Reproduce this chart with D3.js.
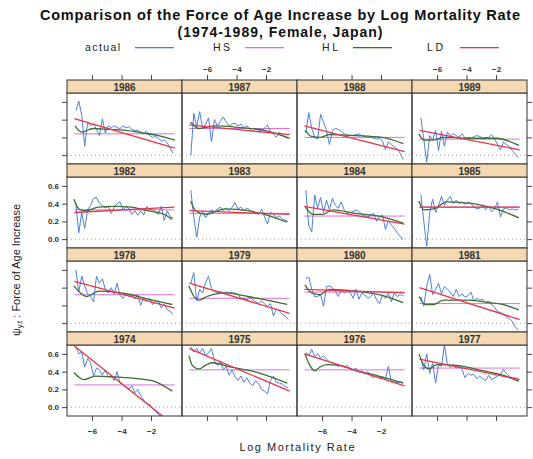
<!DOCTYPE html>
<html><head><meta charset="utf-8">
<script src="https://cdn.jsdelivr.net/npm/d3@7"></script>
<style>
html,body{margin:0;padding:0;background:#fff;}
svg{display:block;font-family:"Liberation Sans",Arial,sans-serif;}
</style></head>
<body><svg id="c" width="533" height="459"></svg>
<script>
// ---------- data ----------
const years = [1986,1987,1988,1989, 1982,1983,1984,1985, 1978,1979,1980,1981, 1974,1975,1976,1977];
const xTicks = [-6,-4,-2];
const yTicks = [0.0,0.2,0.4,0.6];
const yTickLabels = ["0.0","0.2","0.4","0.6"];
const seriesNames = ["actual","HS","HL","LD"];
// common log-mortality grid of the observed series
const logMx = [-7.1,-6.9,-6.7,-6.5,-6.3,-6.1,-5.9,-5.7,-5.5,-5.3,-5.1,-4.9,-4.7,-4.5,-4.3,-4.1,-3.9,-3.7,-3.5,-3.3,-3.1,-2.9,-2.7,-2.5,-2.3,-2.1,-1.9,-1.7,-1.5,-1.3,-1.1,-0.9,-0.7,-0.5];

const act1986 = [0.50,0.61,0.45,0.10,0.37,0.33,0.35,0.29,0.22,0.41,0.25,0.33,0.31,0.33,0.31,0.30,0.33,0.31,0.32,0.29,0.28,0.28,0.26,0.24,0.27,0.22,0.20,0.21,0.19,0.16,0.17,0.14,0.08,0.02];
const act1987 = [0.00,0.47,0.32,0.49,0.30,0.35,0.42,0.15,0.40,0.33,0.38,0.43,0.37,0.33,0.35,0.36,0.33,0.35,0.31,0.33,0.29,0.27,0.30,0.28,0.27,0.31,0.34,0.26,0.24,0.20,0.26,0.22,0.20,0.19];
const act1988 = [0.25,0.48,0.30,0.20,0.18,0.46,0.37,0.28,0.12,0.28,0.30,0.29,0.27,0.24,0.22,0.22,0.22,0.23,0.24,0.22,0.21,0.20,0.20,0.19,0.18,0.19,0.16,0.06,0.15,0.12,0.09,0.07,0.02,-0.05];
const act1989 = [0.42,0.18,-0.08,0.22,0.17,0.28,0.05,0.27,0.10,0.26,0.22,0.24,0.22,0.20,0.24,0.19,0.20,0.19,0.21,0.22,0.21,0.19,0.20,0.20,0.23,0.18,0.12,0.06,0.15,0.12,0.10,0.05,0.01,-0.03];
const act1982 = [0.40,0.07,0.30,0.12,0.33,0.38,0.46,0.47,0.40,0.38,0.35,0.37,0.29,0.36,0.40,0.42,0.33,0.37,0.34,0.28,0.32,0.27,0.32,0.27,0.37,0.33,0.34,0.30,0.28,0.37,0.21,0.32,0.25,0.24];
const act1983 = [0.55,0.25,0.02,0.25,0.31,0.24,0.29,0.33,0.31,0.34,0.36,0.32,0.35,0.32,0.36,0.41,0.34,0.36,0.32,0.35,0.33,0.30,0.29,0.28,0.34,0.25,0.17,0.30,0.28,0.24,0.26,0.23,0.21,0.20];
const act1984 = [0.55,0.15,0.08,0.50,0.35,0.47,0.30,0.44,0.33,0.46,0.38,0.35,0.42,0.33,0.29,0.30,0.31,0.33,0.31,0.28,0.26,0.25,0.27,0.29,0.20,0.25,0.27,0.11,0.21,0.16,0.12,0.07,0.03,0.00];
const act1985 = [0.50,0.20,-0.08,0.30,0.45,0.30,0.38,0.48,0.38,0.44,0.48,0.40,0.44,0.40,0.42,0.39,0.42,0.40,0.36,0.34,0.35,0.37,0.33,0.37,0.31,0.34,0.42,0.25,0.34,0.35,0.33,0.34,0.33,0.34];
const act1978 = [0.60,0.35,0.53,0.42,0.33,0.30,0.24,0.53,0.45,0.50,0.38,0.34,0.40,0.33,0.45,0.31,0.28,0.33,0.30,0.32,0.27,0.32,0.20,0.29,0.25,0.28,0.21,0.24,0.25,0.17,0.21,0.15,0.13,0.10];
const act1979 = [0.45,0.57,0.25,0.38,0.34,0.46,0.53,0.39,0.36,0.34,0.36,0.34,0.35,0.34,0.34,0.34,0.32,0.28,0.28,0.26,0.30,0.26,0.24,0.22,0.25,0.22,0.19,0.22,0.08,0.16,0.14,0.10,0.08,0.04];
const act1980 = [0.50,0.52,0.38,0.30,0.30,0.32,0.19,0.41,0.42,0.40,0.36,0.30,0.37,0.34,0.36,0.35,0.28,0.38,0.27,0.34,0.32,0.28,0.30,0.34,0.26,0.22,0.32,0.28,0.34,0.24,0.34,0.30,0.32,0.31];
const act1981 = [0.30,0.19,0.42,0.55,0.32,0.38,0.45,0.33,0.41,0.38,0.35,0.30,0.38,0.30,0.33,0.29,0.31,0.35,0.25,0.28,0.26,0.27,0.23,0.25,0.21,0.18,0.13,0.12,0.10,0.07,0.05,0.02,-0.04,-0.08];
const act1974 = [0.68,0.60,0.62,0.45,0.55,0.50,0.35,0.44,0.42,0.36,0.42,0.34,0.35,0.30,0.40,0.27,0.25,0.22,0.20,0.24,0.16,0.20,0.13,0.08,0.04,0.03,-0.01,-0.05,-0.08,-0.12,-0.18,-0.22,-0.26,-0.30];
const act1975 = [0.68,0.62,0.66,0.61,0.66,0.58,0.61,0.66,0.52,0.47,0.52,0.42,0.46,0.36,0.42,0.34,0.30,0.35,0.28,0.33,0.27,0.24,0.30,0.26,0.20,0.18,0.15,0.30,0.35,0.28,0.27,0.26,0.23,0.22];
const act1976 = [0.62,0.58,0.65,0.57,0.60,0.55,0.58,0.54,0.51,0.50,0.48,0.46,0.47,0.45,0.47,0.43,0.42,0.44,0.39,0.41,0.37,0.40,0.35,0.33,0.36,0.32,0.34,0.32,0.46,0.28,0.30,0.27,0.29,0.27];
const act1977 = [0.55,0.42,0.60,0.38,0.50,0.27,0.48,0.46,0.70,0.48,0.45,0.48,0.44,0.46,0.42,0.33,0.38,0.36,0.37,0.32,0.35,0.32,0.30,0.36,0.31,0.33,0.35,0.36,0.43,0.38,0.35,0.33,0.33,0.32];

// HS: constant level per year (same order as years)
const hsLevel = [0.24,0.30,0.20,0.18, 0.33,0.29,0.26,0.36, 0.32,0.28,0.35,0.22, 0.25,0.42,0.42,0.44];
// LD: linear fit, value at start and end of the range
const ldRange = [-7.2,-0.4];
const ldStart = [0.41,0.34,0.33,0.28, 0.30,0.32,0.37,0.36, 0.47,0.45,0.38,0.40, 0.69,0.66,0.60,0.54];
const ldEnd   = [0.08,0.23,0.04,0.06, 0.36,0.28,0.17,0.36, 0.17,0.11,0.34,0.04, -0.21,0.18,0.24,0.31];
// HL: smooth fitted curve, [logMx, value]
const hl1986 = [[-7.16,0.33],[-6.71,0.26],[-5.94,0.30],[-4.83,0.29],[-3.71,0.28],[-2.60,0.25],[-1.49,0.22],[-0.38,0.17]];
const hl1987 = [[-7.11,0.37],[-6.56,0.30],[-5.45,0.33],[-3.67,0.31],[-2.11,0.28],[-0.56,0.20],[-0.40,0.19]];
const hl1988 = [[-7.16,0.28],[-6.71,0.21],[-6.16,0.20],[-5.49,0.23],[-3.71,0.22],[-1.94,0.20],[-0.49,0.13]];
const hl1989 = [[-7.23,0.24],[-6.89,0.17],[-6.23,0.17],[-5.56,0.20],[-3.56,0.19],[-2.00,0.19],[-0.45,0.11]];
const hl1982 = [[-7.23,0.45],[-6.89,0.34],[-6.45,0.32],[-5.56,0.36],[-4.45,0.37],[-3.34,0.36],[-2.23,0.32],[-1.12,0.28],[-0.56,0.22]];
const hl1983 = [[-7.11,0.43],[-6.78,0.32],[-6.11,0.28],[-4.78,0.34],[-3.23,0.32],[-2.11,0.28],[-0.56,0.19]];
const hl1984 = [[-7.16,0.37],[-6.60,0.28],[-5.94,0.28],[-5.27,0.33],[-3.71,0.29],[-2.16,0.26],[-0.49,0.18]];
const hl1985 = [[-7.23,0.43],[-6.89,0.33],[-6.23,0.34],[-5.34,0.42],[-3.56,0.40],[-2.00,0.34],[-0.45,0.24]];
const hl1978 = [[-7.23,0.42],[-6.78,0.34],[-6.34,0.30],[-5.56,0.36],[-4.45,0.35],[-3.34,0.32],[-2.23,0.27],[-0.56,0.21]];
const hl1979 = [[-7.23,0.42],[-6.89,0.30],[-6.56,0.26],[-6.00,0.30],[-4.78,0.34],[-3.23,0.30],[-1.67,0.25],[-0.56,0.21]];
const hl1980 = [[-7.16,0.43],[-6.71,0.34],[-6.16,0.32],[-5.49,0.38],[-3.71,0.36],[-2.16,0.32],[-1.27,0.28],[-0.49,0.23]];
const hl1981 = [[-7.23,0.30],[-6.78,0.21],[-6.23,0.21],[-5.56,0.26],[-3.78,0.26],[-2.45,0.23],[-1.56,0.21],[-0.45,0.15]];
const hl1974 = [[-7.23,0.39],[-6.56,0.31],[-5.78,0.35],[-4.45,0.34],[-2.89,0.32],[-1.78,0.29],[-0.56,0.18]];
const hl1975 = [[-7.23,0.58],[-7.00,0.47],[-6.56,0.43],[-6.11,0.47],[-5.67,0.50],[-4.34,0.45],[-2.56,0.39],[-0.56,0.27]];
const hl1976 = [[-7.16,0.60],[-6.83,0.47],[-6.49,0.41],[-6.16,0.45],[-5.71,0.48],[-4.83,0.47],[-3.71,0.41],[-2.16,0.35],[-0.49,0.27]];
const hl1977 = [[-7.23,0.60],[-6.89,0.47],[-6.56,0.43],[-6.00,0.48],[-4.67,0.47],[-2.89,0.41],[-1.34,0.35],[-0.45,0.29]];

const actualByYear = {1986:act1986,1987:act1987,1988:act1988,1989:act1989,1982:act1982,1983:act1983,1984:act1984,1985:act1985,1978:act1978,1979:act1979,1980:act1980,1981:act1981,1974:act1974,1975:act1975,1976:act1976,1977:act1977};
const hlByYear = {1986:hl1986,1987:hl1987,1988:hl1988,1989:hl1989,1982:hl1982,1983:hl1983,1984:hl1984,1985:hl1985,1978:hl1978,1979:hl1979,1980:hl1980,1981:hl1981,1974:hl1974,1975:hl1975,1976:hl1976,1977:hl1977};

// ---------- layout ----------
const seriesColor = {actual:"#4f7fdc", HS:"#dd6fdd", HL:"#3b6e30", LD:"#ea3548"};
const left0 = 67, colW = 115, top0 = 80, rowH = 84, stripH = 13;
const plotH = rowH - stripH;
const svg = d3.select("#c");

const x = d3.scaleLinear().domain([-7.7, 0.1]).range([0, colW]);
const y = d3.scaleLinear().domain([-0.1, 0.7]).range([plotH, 0]);

// title
svg.append("text").attr("x",280).attr("y",20).attr("text-anchor","middle")
  .attr("font-size",14.5).attr("font-weight","bold").attr("fill","#111")
  .attr("textLength",480).attr("lengthAdjust","spacing")
  .text("Comparison of the Force of Age Increase by Log Mortality Rate");
svg.append("text").attr("x",280).attr("y",37).attr("text-anchor","middle")
  .attr("font-size",14).attr("font-weight","bold").attr("fill","#111")
  .attr("textLength",205).attr("lengthAdjust","spacing")
  .text("(1974-1989, Female, Japan)");

// legend
const legX = [85, 213, 322, 427];
const legW = [35, 17, 16, 16];
const legLineX = [135, 245, 353, 460];
const legG = svg.append("g").attr("class","legend");
seriesNames.forEach((s,i)=>{
  legG.append("text").attr("x",legX[i]).attr("y",51).attr("font-size",10.5).attr("fill","#222")
    .attr("textLength",legW[i]).attr("lengthAdjust","spacing").text(s);
  legG.append("rect").attr("x",legLineX[i]).attr("y",47).attr("width",39).attr("height",1.3)
    .attr("fill",seriesColor[s]);
});

const defs = svg.append("defs");
years.forEach((yr,k)=>{
  const r = Math.floor(k/4), c = k%4;
  const px = left0 + c*colW;
  const sy = top0 + r*rowH;
  const py = sy + stripH;
  const g = svg.append("g").attr("transform",`translate(${px},${py})`);

  defs.append("clipPath").attr("id","clip"+yr).append("rect")
    .attr("x",0).attr("y",0).attr("width",colW).attr("height",plotH);

  // strip
  svg.append("rect").attr("x",px).attr("y",sy).attr("width",colW).attr("height",stripH)
    .attr("fill","#f5d9b2").attr("stroke","#333").attr("stroke-width",1);
  svg.append("text").attr("x",px+colW/2).attr("y",sy+10.5).attr("text-anchor","middle")
    .attr("font-size",10).attr("font-weight","bold").attr("fill","#333").text(yr);

  const inner = g.append("g").attr("clip-path",`url(#clip${yr})`);
  // zero reference
  inner.append("line").attr("x1",0).attr("x2",colW).attr("y1",y(0)).attr("y2",y(0))
    .attr("stroke","#9a9a9a").attr("stroke-width",1).attr("stroke-dasharray","1,3");

  const lineXY = d3.line().x(d=>x(d[0])).y(d=>y(d[1]));
  // HS
  inner.append("path").datum(ldRange.map(v=>[v,hsLevel[k]])).attr("d",lineXY)
    .attr("fill","none").attr("stroke",seriesColor.HS).attr("stroke-width",1);
  // actual
  const act = actualByYear[yr];
  inner.append("path").datum(logMx.map((v,i)=>[v,act[i]])).attr("d",lineXY)
    .attr("fill","none").attr("stroke",seriesColor.actual).attr("stroke-width",1);
  // HL
  inner.append("path").datum(hlByYear[yr]).attr("d",d3.line().x(d=>x(d[0])).y(d=>y(d[1])).curve(d3.curveMonotoneX))
    .attr("fill","none").attr("stroke",seriesColor.HL).attr("stroke-width",1.3);
  // LD
  inner.append("path").datum([[ldRange[0],ldStart[k]],[ldRange[1],ldEnd[k]]]).attr("d",lineXY)
    .attr("fill","none").attr("stroke",seriesColor.LD).attr("stroke-width",1.3);

  // frame
  g.append("rect").attr("x",0).attr("y",0).attr("width",colW).attr("height",plotH)
    .attr("fill","none").attr("stroke","#333").attr("stroke-width",1);

  // ticks
  if (c===0){
    const ax = d3.axisLeft(y).tickValues(yTicks).tickSize(5).tickFormat((d,i)=> (r===1||r===3)? yTickLabels[i] : "");
    const ag = g.append("g").call(ax);
    ag.select(".domain").remove();
    ag.selectAll("text").attr("font-size",8).attr("font-weight","bold").attr("fill","#333").attr("font-family","Liberation Sans, Arial");
    ag.selectAll("line").attr("stroke","#444");
  }
  if (c===3){
    const ax = d3.axisRight(y).tickValues(yTicks).tickSize(5).tickFormat("");
    const ag = g.append("g").attr("transform",`translate(${colW},0)`).call(ax);
    ag.select(".domain").remove();
    ag.selectAll("line").attr("stroke","#444");
  }
  if (r===0){
    const ax = d3.axisTop(x).tickValues(xTicks).tickSize(5).tickFormat(d=> (c%2===1)? d3.format("d")(d) : "");
    const ag = g.append("g").attr("transform",`translate(0,${-stripH})`).call(ax);
    ag.select(".domain").remove();
    ag.selectAll("text").attr("font-size",8).attr("font-weight","bold").attr("fill","#333").attr("font-family","Liberation Sans, Arial");
    ag.selectAll("line").attr("stroke","#444");
  }
  if (r===3){
    const ax = d3.axisBottom(x).tickValues(xTicks).tickSize(5).tickFormat(d=> (c%2===0)? d3.format("d")(d) : "");
    const ag = g.append("g").attr("transform",`translate(0,${plotH})`).call(ax);
    ag.select(".domain").remove();
    ag.selectAll("text").attr("font-size",8).attr("font-weight","bold").attr("fill","#333").attr("font-family","Liberation Sans, Arial").attr("dy","1.2em");
    ag.selectAll("line").attr("stroke","#444");
  }
});

// axis titles
svg.append("text").attr("x",297).attr("y",451).attr("text-anchor","middle")
  .attr("font-size",11).attr("fill","#222").attr("textLength",115).attr("lengthAdjust","spacing")
  .text("Log Mortality Rate");
const yt = svg.append("text").attr("transform","translate(20,270) rotate(-90)").attr("text-anchor","middle")
  .attr("font-size",11).attr("fill","#222");
yt.append("tspan").text("ψ");
yt.append("tspan").attr("font-size",7.5).attr("dy",2).text("y,t");
yt.append("tspan").attr("dy",-2).text(" : Force of Age Increase");
</script></body></html>
